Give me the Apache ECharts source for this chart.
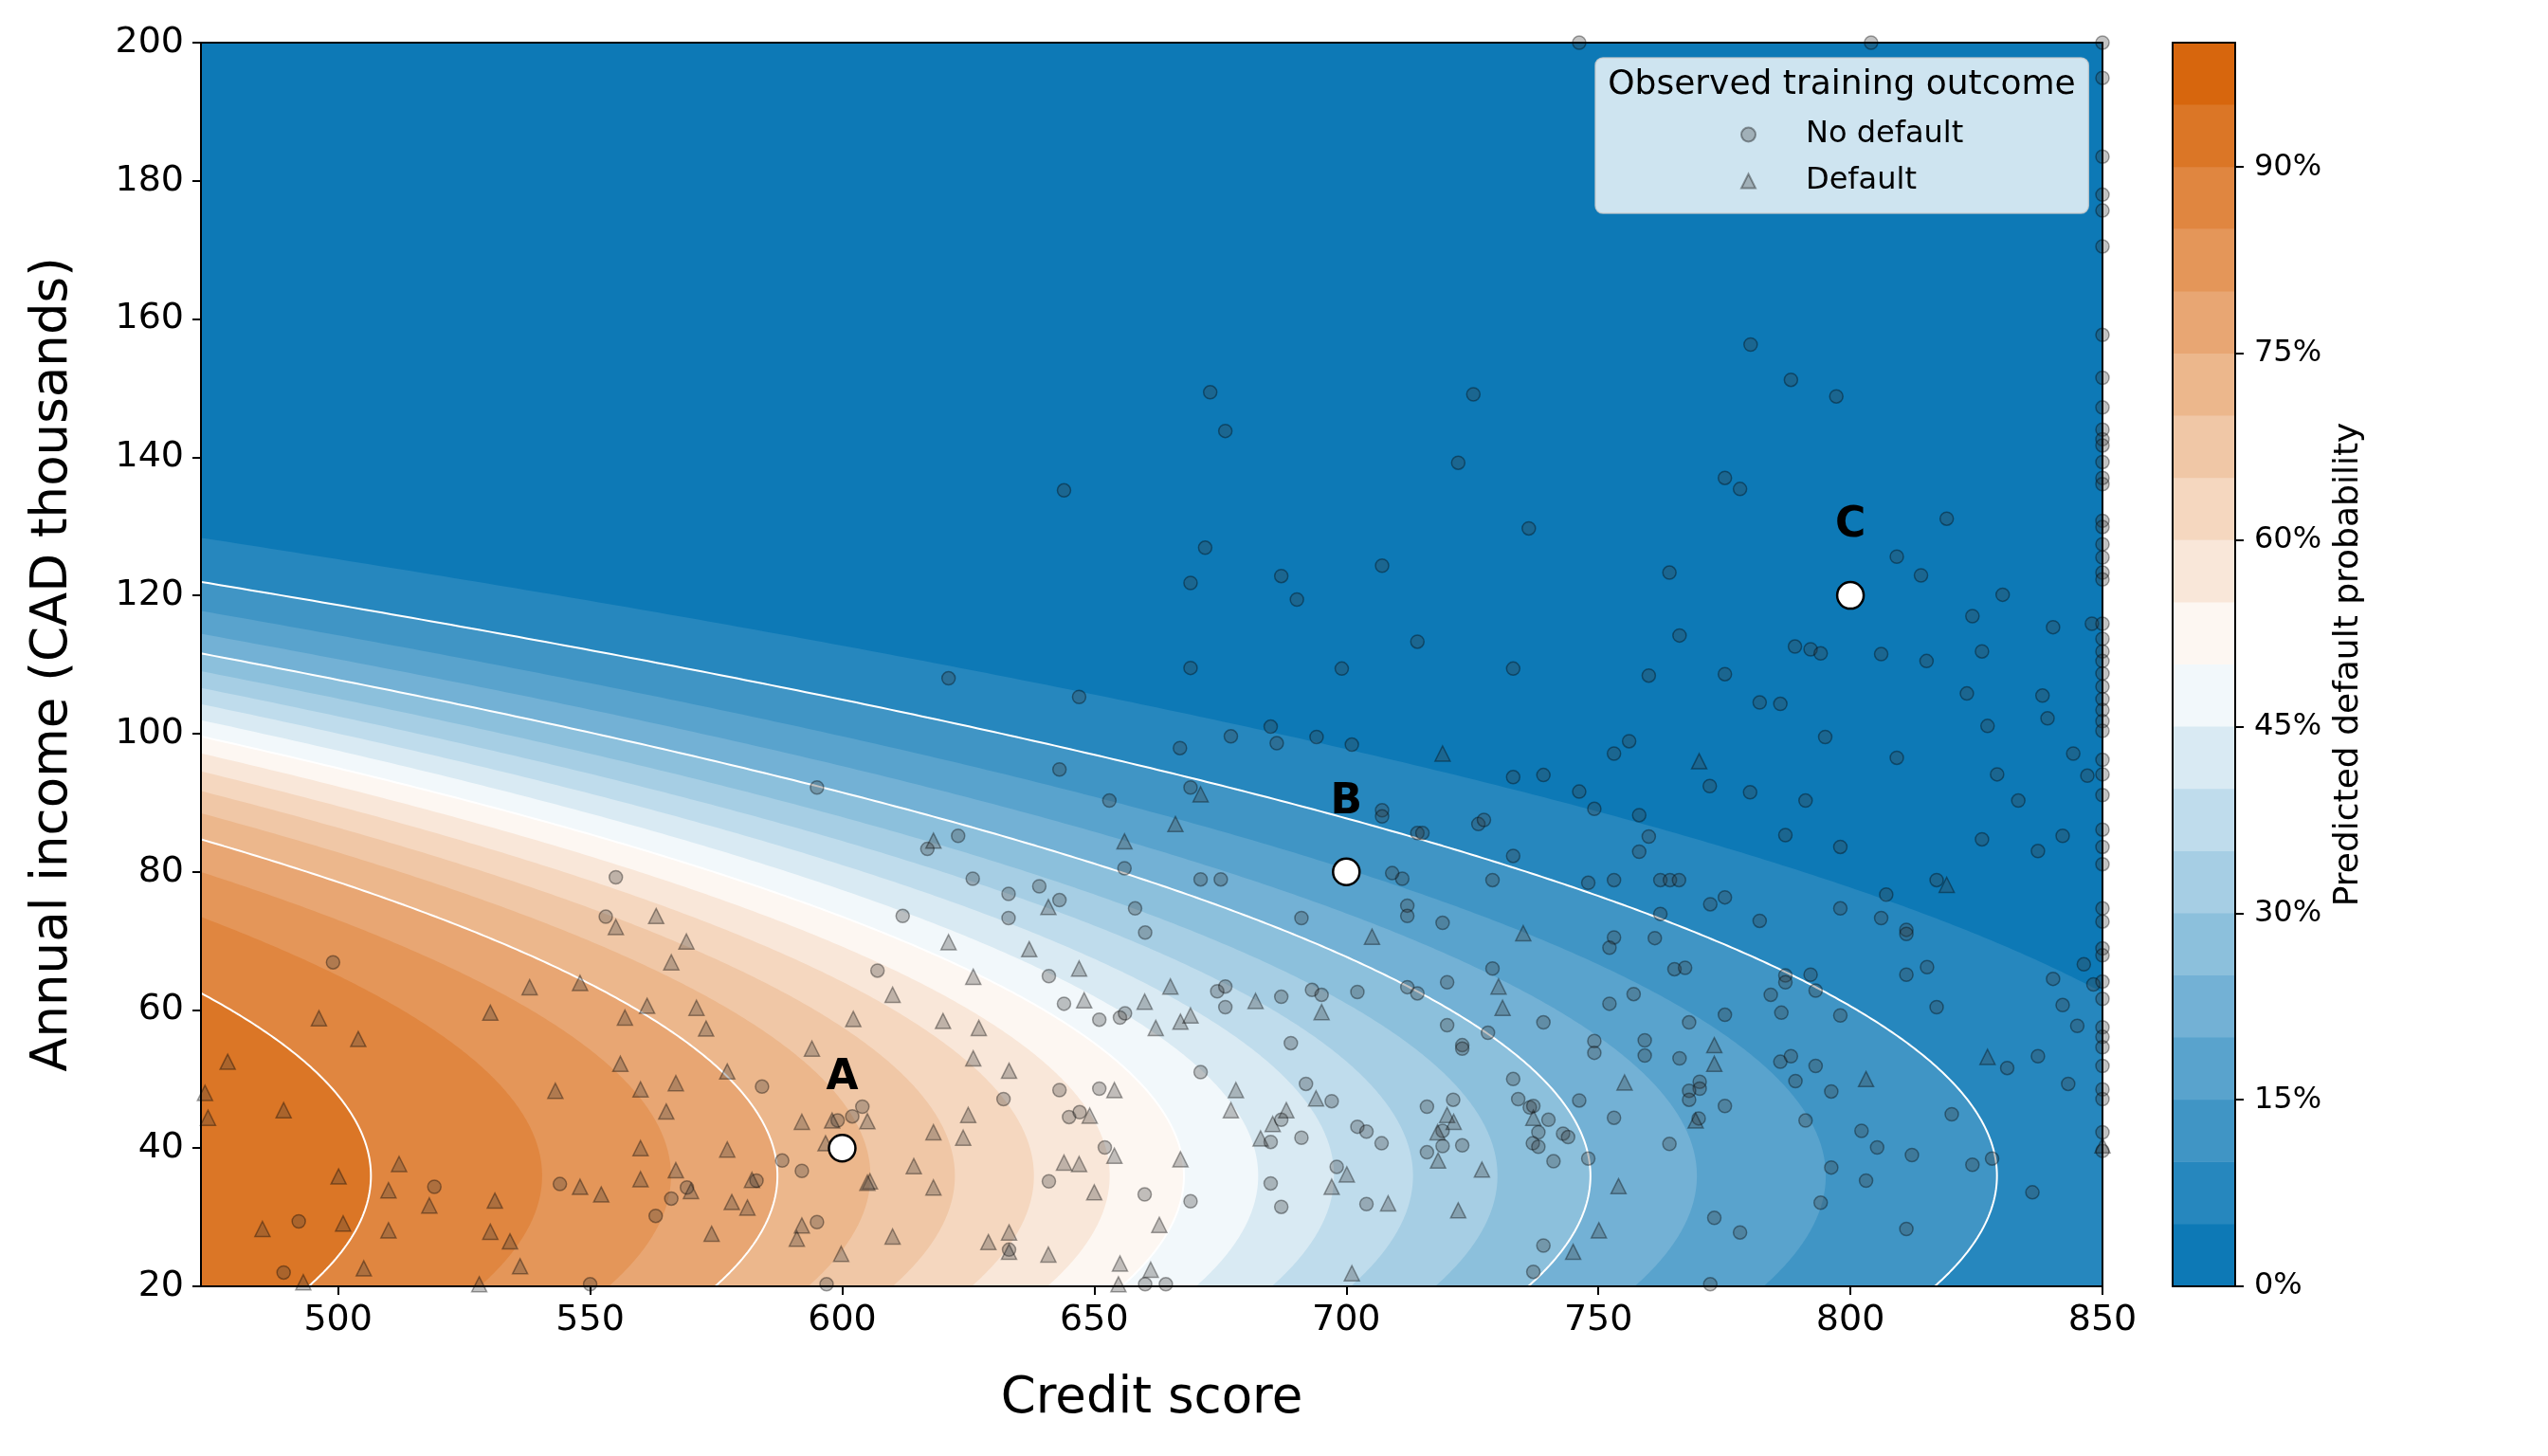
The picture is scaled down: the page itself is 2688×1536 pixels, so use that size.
<!DOCTYPE html>
<html>
<head>
<meta charset="utf-8">
<script src="https://cdn.jsdelivr.net/npm/echarts@6/dist/echarts.min.js"></script>
<style>
html,body{margin:0;padding:0;background:#ffffff;}
#chart{width:2688px;height:1536px;}
</style>
</head>
<body>
<div id="chart"></div>
<script>
// ---------------- data ----------------
const X_MIN = 472.8, X_MAX = 850, Y_MIN = 20, Y_MAX = 200;
const xTicks = [500, 550, 600, 650, 700, 750, 800, 850];
const yTicks = [20, 40, 60, 80, 100, 120, 140, 160, 180, 200];
const colorbarTicks = [0, 0.15, 0.30, 0.45, 0.60, 0.75, 0.90];
const fillLevels = [0, 0.05, 0.10, 0.15, 0.20, 0.25, 0.30, 0.35, 0.40, 0.45, 0.50,
                    0.55, 0.60, 0.65, 0.70, 0.75, 0.80, 0.85, 0.90, 0.95, 1.00];
const lineLevels = [0.10, 0.25, 0.50, 0.75, 0.90];

// fitted logistic surface: logit(p) = B0 + B_SCORE*score + B_INC2*(income-INC_CENTER)^2
const B0 = 9.098;
const B_SCORE = -0.013624;
const B_INC2 = -0.000657;
const INC_CENTER = 36;

const highlightNames = ['A', 'B', 'C'];
const highlightScores = [600, 700, 800];
const highlightIncomes = [40, 80, 120];

const noDefault = [
[555.1,79.2],[553.1,73.5],[499.0,66.9],[584.1,48.9],[599.1,44.0],[588.1,38.2],[592.0,36.7],[519.1,34.4],[544.0,34.8],[569.2,34.3],[583.0,35.3],[566.1,32.7],[563.0,30.2],[492.2,29.4],[595.0,29.3],[489.2,22.0],[550.0,20.3],[596.9,20.3],[595.0,92.2],
[625.9,79.0],[633.0,76.8],[639.1,77.9],[643.1,75.9],[633.0,73.3],[612.0,73.6],[658.1,74.7],[660.1,71.2],[671.1,78.9],[675.1,78.9],[711.1,79.0],[712.1,75.1],[712.1,73.6],[719.1,72.6],[691.1,73.3],[607.0,65.7],[641.0,64.9],[674.4,62.7],[676.0,63.4],[676.0,60.4],[687.1,61.9],[693.2,62.9],[695.1,62.2],[702.2,62.6],[712.1,63.3],[714.1,62.4],[720.0,64.0],[720.0,57.8],[723.0,54.9],[723.0,54.4],[728.1,56.7],[644.0,60.9],[651.0,58.6],[655.1,58.9],[656.1,59.5],[689.0,55.2],[671.1,51.0],[604.0,46.0],[602.0,44.6],[632.0,47.1],[643.1,48.4],[651.0,48.6],[645.0,44.5],[647.1,45.2],[692.0,49.3],[697.1,46.8],[687.1,44.1],[685.0,40.9],[691.1,41.5],[702.2,43.1],[704.0,42.4],[707.0,40.7],[716.0,46.0],[721.2,47.0],[719.1,42.5],[719.1,40.3],[723.0,40.4],[716.0,39.4],[652.1,40.1],[698.1,37.3],[685.0,34.9],[687.1,31.5],[704.0,31.9],[641.0,35.2],[660.0,33.3],[669.1,32.3],[633.1,25.3],[660.1,20.3],[664.2,20.3],
[729.0,78.8],[748.0,78.4],[753.1,78.8],[762.3,78.8],[764.2,78.8],[766.0,78.8],[817.1,78.8],[807.1,76.7],[775.1,76.3],[772.2,75.3],[798.0,74.7],[762.3,73.9],[782.0,72.9],[806.1,73.3],[811.1,71.6],[811.1,71.0],[753.1,70.5],[752.2,69.0],[761.2,70.4],[765.1,65.9],[767.2,66.1],[729.0,66.0],[787.1,65.0],[787.1,64.0],[792.1,65.1],[793.1,62.8],[784.2,62.2],[811.1,65.1],[815.2,66.2],[846.3,66.6],[840.2,64.5],[848.2,63.7],[757.0,62.3],[752.2,60.9],[786.3,59.6],[775.1,59.3],[798.0,59.2],[817.1,60.4],[842.1,60.7],[739.1,58.2],[768.0,58.2],[845.0,57.7],[749.2,55.5],[749.2,53.8],[759.2,55.6],[759.2,53.4],[766.1,53.0],[786.1,52.5],[788.2,53.3],[793.1,51.9],[837.2,53.3],[831.1,51.6],[843.2,49.3],[733.1,50.0],[734.1,47.1],[736.4,45.9],[737.1,46.1],[740.1,44.1],[738.1,42.3],[743.0,42.1],[744.0,41.6],[737.0,40.7],[738.1,40.2],[741.1,38.1],[748.0,38.5],[746.2,46.9],[753.1,44.4],[770.1,49.6],[770.1,48.6],[768.0,48.3],[768.0,47.0],[769.9,44.3],[775.1,46.1],[789.1,49.7],[796.2,48.2],[791.1,44.0],[802.2,42.5],[805.3,40.1],[812.2,39.0],[820.1,44.9],[824.2,37.6],[828.1,38.5],[764.1,40.6],[796.2,37.2],[803.1,35.3],[794.1,32.1],[836.1,33.6],[773.0,29.9],[778.1,27.8],[811.1,28.3],[739.1,25.9],[737.1,22.1],[772.2,20.3],
[850,74.7],[850,72.8],[850,68.9],[850,67.9],[850,64.1],[850,61.6],[850,57.5],[850,56.1],[850,54.6],[850,51.9],[850,48.5],[850,47.1],[850,42.3],[850,39.6],
[722.2,139.2],[644.0,135.2],[672.0,126.9],[707.1,124.3],[669.1,121.8],[687.1,122.8],[690.2,119.4],[714.1,113.3],[669.1,109.5],[699.1,109.4],[621.1,108.0],[647.0,105.3],[685.0,101.0],[677.1,99.6],[686.2,98.6],[694.1,99.5],[701.1,98.4],[667.0,97.9],[643.1,94.8],[669.1,92.2],[653.0,90.3],[707.1,88.9],[707.1,88.0],[714.1,85.6],[715.1,85.6],[726.2,86.9],[727.3,87.5],[623.0,85.2],[616.9,83.3],[656.0,80.5],[709.1,79.8],
[775.1,137.0],[778.1,135.4],[736.2,129.7],[819.1,131.1],[809.2,125.6],[814.0,122.9],[764.1,123.3],[830.2,120.1],[824.2,117.0],[840.2,115.4],[847.9,115.9],[766.1,114.2],[789.0,112.6],[792.1,112.2],[794.1,111.6],[806.1,111.5],[815.1,110.5],[826.1,111.9],[733.1,109.4],[760.0,108.4],[775.1,108.6],[782.0,104.5],[786.1,104.3],[823.1,105.8],[838.1,105.5],[839.1,102.2],[827.2,101.1],[795.0,99.5],[756.1,98.9],[753.1,97.1],[809.2,96.5],[844.2,97.1],[733.1,93.7],[739.1,94.0],[746.2,91.6],[749.2,89.1],[758.1,88.2],[772.1,92.4],[780.1,91.5],[791.1,90.3],[829.1,94.1],[847.0,93.9],[833.3,90.3],[760.0,85.1],[758.1,82.9],[787.1,85.3],[798.0,83.6],[826.1,84.7],[837.2,83.0],[842.1,85.2],[733.1,82.3],
[850,139.3],[850,137.0],[850,136.1],[850,130.8],[850,129.9],[850,127.4],[850,125.5],[850,123.3],[850,122.3],[850,115.9],[850,113.7],[850,111.9],[850,110.5],[850,108.7],[850,106.8],[850,105.0],[850,103.4],[850,101.8],[850,100.4],[850,96.2],[850,94.1],[850,91.1],[850,86.1],[850,83.6],[850,81.1],
[673.0,149.4],[676.0,143.8],[725.2,149.1],[746.2,200],[804.1,200],[780.2,156.3],[788.2,151.2],[797.2,148.8],
[850,200],[850,194.9],[850,183.5],[850,178.0],[850,175.7],[850,170.5],[850,157.7],[850,151.5],[850,147.2],[850,144.0],[850,142.6],[850,141.7]
];

const defaultPts = [
[563.1,73.6],[555.1,72.0],[569.1,69.9],[566.1,66.9],[538.0,63.3],[548.0,63.9],[530.2,59.6],[561.3,60.6],[571.1,60.3],[556.9,58.9],[573.0,57.3],[496.2,58.8],[504.0,55.8],[594.0,54.4],[478.1,52.5],[556.0,52.2],[577.2,51.1],[567.0,49.4],[560.0,48.5],[543.1,48.3],[473.6,48.0],[489.2,45.5],[474.2,44.4],[565.1,45.3],[592.0,43.8],[598.0,44.0],[596.7,40.7],[560.0,40.0],[577.2,39.8],[512.1,37.7],[500.1,35.9],[510.0,33.9],[560.0,35.5],[567.0,36.8],[548.0,34.4],[552.2,33.3],[570.0,33.8],[582.1,35.4],[518.1,31.7],[531.1,32.4],[578.1,32.2],[581.2,31.4],[485.0,28.3],[501.0,29.1],[510.0,28.1],[530.2,27.9],[534.1,26.5],[574.1,27.6],[592.0,28.8],[591.0,26.9],[599.8,24.7],[505.1,22.6],[536.1,22.9],[493.1,20.6],[528.0,20.3],
[640.9,74.9],[705.1,70.6],[621.1,69.8],[637.1,68.8],[626.0,64.8],[610.0,62.2],[647.0,66.0],[665.1,63.4],[682.0,61.3],[695.1,59.7],[648.0,61.4],[660.0,61.2],[662.2,57.4],[667.1,58.3],[669.1,59.2],[602.2,58.7],[620.0,58.4],[627.1,57.4],[626.0,53.0],[633.1,51.2],[605.0,43.9],[654.0,48.4],[625.0,44.8],[618.1,42.3],[624.0,41.5],[649.1,44.7],[678.1,48.4],[677.1,45.5],[694.0,47.2],[688.1,45.5],[685.4,43.5],[683.0,41.4],[720.0,44.8],[721.3,43.8],[718.1,42.3],[718.2,38.2],[726.9,36.9],[654.0,38.9],[644.0,37.9],[647.0,37.7],[667.1,38.4],[700.1,36.2],[697.1,34.4],[708.3,32.0],[722.2,31.0],[614.2,37.4],[605.5,35.2],[605.0,35.0],[618.1,34.3],[650.0,33.6],[662.9,28.9],[610.0,27.2],[629.0,26.4],[633.1,27.8],[633.1,25.0],[640.9,24.6],[655.1,23.3],[661.2,22.4],[701.1,21.9],[654.8,20.3],
[819.1,78.1],[735.1,71.1],[730.2,63.4],[731.0,60.3],[773.0,54.9],[773.0,52.2],[827.2,53.2],[755.2,49.5],[737.1,44.4],[769.3,44.0],[803.1,50.0],[754.0,34.5],[750.1,28.1],[745.0,25.0],[850,40.4],
[719.1,97.1],[671.1,91.2],[666.1,86.9],[656.0,84.4],[618.1,84.5],[770.0,96.0]
];

// ---------------- helpers ----------------
const FONT = 'DejaVu Sans';
const COLOR_LOW = [0, 114, 178], COLOR_MID = [255, 255, 255], COLOR_HIGH = [213, 94, 0];
function cmap(t) {
  const a = t < 0.5 ? COLOR_LOW : COLOR_MID;
  const b = t < 0.5 ? COLOR_MID : COLOR_HIGH;
  const f = t < 0.5 ? t / 0.5 : (t - 0.5) / 0.5;
  return 'rgb(' + a.map((v, i) => Math.round(v + (b[i] - v) * f)).join(',') + ')';
}
const bandColors = fillLevels.slice(0, -1).map((lo, i) => cmap((lo + fillLevels[i + 1]) / 2));
function logit(p) { return Math.log(p / (1 - p)); }
function scoreAtLevel(p, inc) {
  return (logit(p) - B0 - B_INC2 * Math.pow(inc - INC_CENTER, 2)) / B_SCORE;
}
const incomeSamples = [];
for (let v = Y_MIN; v <= Y_MAX + 1e-9; v += 0.25) incomeSamples.push(+v.toFixed(2));

const chart = echarts.init(document.getElementById('chart'), null, {renderer: 'canvas'});

const lineOnly = {show: true, onZero: false, lineStyle: {color: '#000', width: 2}};
const markerStyle = {color: 'rgba(60,60,60,0.38)', borderColor: 'rgba(0,0,0,0.45)', borderWidth: 1.5};

const contourLineSeries = lineLevels.map(lv => ({
  type: 'line', name: 'contour ' + lv, xAxisIndex: 0, yAxisIndex: 0,
  data: incomeSamples.map(inc => [scoreAtLevel(lv, inc), inc]).filter(d => d[0] >= X_MIN - 20),
  symbol: 'none', showSymbol: false, silent: true, clip: true, z: 3,
  lineStyle: {color: '#ffffff', width: 2}
}));

const option = {
  animation: false,
  backgroundColor: '#ffffff',
  textStyle: {fontFamily: FONT},
  grid: [
    {left: 212, top: 45, width: 2006, height: 1312, outerBoundsMode: 'none'},
    {left: 2292, top: 45, width: 66, height: 1312, outerBoundsMode: 'none'}
  ],
  xAxis: [
    {gridIndex: 0, type: 'value', min: X_MIN, max: X_MAX, position: 'bottom', z: 10,
     axisLine: lineOnly,
     axisTick: {show: true, customValues: xTicks, length: 9, lineStyle: {color: '#000', width: 2}},
     axisLabel: {customValues: xTicks, fontSize: 38, color: '#000', margin: 17, fontFamily: FONT},
     splitLine: {show: false},
     name: 'Credit score', nameLocation: 'middle', nameGap: 93,
     nameTextStyle: {fontSize: 53, color: '#000', fontFamily: FONT}},
    {gridIndex: 0, type: 'value', min: X_MIN, max: X_MAX, position: 'top', z: 10,
     axisLine: lineOnly, axisTick: {show: false}, axisLabel: {show: false}, splitLine: {show: false}},
    {gridIndex: 1, type: 'value', min: 0, max: 1, position: 'bottom', z: 10,
     axisLine: lineOnly, axisTick: {show: false}, axisLabel: {show: false}, splitLine: {show: false}},
    {gridIndex: 1, type: 'value', min: 0, max: 1, position: 'top', z: 10,
     axisLine: lineOnly, axisTick: {show: false}, axisLabel: {show: false}, splitLine: {show: false}}
  ],
  yAxis: [
    {gridIndex: 0, type: 'value', min: Y_MIN, max: Y_MAX, interval: 20, position: 'left', z: 10,
     axisLine: lineOnly,
     axisTick: {show: true, customValues: yTicks, length: 9, lineStyle: {color: '#000', width: 2}},
     axisLabel: {customValues: yTicks, fontSize: 38, color: '#000', margin: 18, fontFamily: FONT},
     splitLine: {show: false},
     name: 'Annual income (CAD thousands)', nameLocation: 'middle', nameGap: 129, nameRotate: 90,
     nameTextStyle: {fontSize: 53, color: '#000', fontFamily: FONT}},
    {gridIndex: 0, type: 'value', min: Y_MIN, max: Y_MAX, position: 'right', z: 10,
     axisLine: lineOnly, axisTick: {show: false}, axisLabel: {show: false}, splitLine: {show: false}},
    {gridIndex: 1, type: 'value', min: 0, max: 1, position: 'left', z: 10,
     axisLine: lineOnly, axisTick: {show: false}, axisLabel: {show: false}, splitLine: {show: false}},
    {gridIndex: 1, type: 'value', min: 0, max: 1, position: 'right', z: 10,
     axisLine: lineOnly,
     axisTick: {show: true, customValues: colorbarTicks, length: 9, lineStyle: {color: '#000', width: 2}},
     axisLabel: {customValues: colorbarTicks, fontSize: 32, color: '#000', margin: 20, fontFamily: FONT,
                 formatter: v => Math.round(v * 100) + '%'},
     splitLine: {show: false},
     name: 'Predicted default probability', nameLocation: 'middle', nameGap: 102, nameRotate: 90,
     nameTextStyle: {fontSize: 36, color: '#000', fontFamily: FONT}}
  ],
  legend: {
    data: [{name: 'No default', icon: 'circle'}, {name: 'Default', icon: 'triangle'}],
    orient: 'vertical', left: 1683, top: 61,
    itemWidth: 15, itemHeight: 15, itemGap: 17,
    padding: [65, 132, 18, 153],
    backgroundColor: 'rgba(255,255,255,0.8)',
    borderColor: 'rgba(204,204,204,0.8)', borderWidth: 1.5, borderRadius: 8,
    textStyle: {fontSize: 32, color: '#000', fontFamily: FONT, lineHeight: 32, padding: [0, 0, 0, 48]},
    selectedMode: false
  },
  graphic: [
    {type: 'text', x: 1943, y: 90, z: 100,
     style: {text: 'Observed training outcome', fontSize: 36, fontFamily: FONT, fill: '#000',
             align: 'center', verticalAlign: 'middle'}}
  ],
  series: [
    {
      type: 'custom', name: 'probability bands', xAxisIndex: 0, yAxisIndex: 0,
      clip: true, silent: true, z: 1,
      data: bandColors.map((c, k) => [k, k]),
      renderItem: function (params, api) {
        const k = api.value(0);
        let pts;
        if (k === 0) {
          pts = [[X_MIN, Y_MIN], [X_MAX, Y_MIN], [X_MAX, Y_MAX], [X_MIN, Y_MAX]];
        } else {
          const lv = fillLevels[k];
          pts = incomeSamples.map(inc => [Math.min(X_MAX + 10, Math.max(X_MIN - 10, scoreAtLevel(lv, inc))), inc]);
          pts.push([X_MIN - 10, Y_MAX], [X_MIN - 10, Y_MIN]);
        }
        return {type: 'polygon', shape: {points: pts.map(p => api.coord(p))},
                style: {fill: bandColors[k], stroke: null}};
      }
    },
    ...contourLineSeries,
    {
      type: 'scatter', name: 'No default', xAxisIndex: 0, yAxisIndex: 0, z: 4,
      symbol: 'circle', symbolSize: 14, data: noDefault, itemStyle: markerStyle
    },
    {
      type: 'scatter', name: 'Default', xAxisIndex: 0, yAxisIndex: 0, z: 4,
      symbol: 'triangle', symbolSize: 16, data: defaultPts, itemStyle: markerStyle
    },
    {
      type: 'scatter', name: 'Highlighted applicants', xAxisIndex: 0, yAxisIndex: 0, z: 6,
      symbol: 'circle', symbolSize: 28,
      data: highlightNames.map((n, i) => ({name: n, value: [highlightScores[i], highlightIncomes[i]]})),
      itemStyle: {color: '#ffffff', borderColor: '#000000', borderWidth: 2.5, opacity: 1},
      label: {show: true, position: 'top', distance: 36, formatter: '{b}',
              fontSize: 44, fontWeight: 'bold', color: '#000', fontFamily: FONT}
    },
    {
      type: 'custom', name: 'colorbar', xAxisIndex: 2, yAxisIndex: 3, clip: true, silent: true, z: 1,
      data: bandColors.map((c, k) => [k, k]),
      renderItem: function (params, api) {
        const k = api.value(0);
        const p0 = api.coord([0, fillLevels[k]]);
        const p1 = api.coord([1, fillLevels[k + 1]]);
        return {type: 'rect',
                shape: {x: p0[0], y: p1[1] - 0.6, width: p1[0] - p0[0], height: p0[1] - p1[1] + 0.6},
                style: {fill: bandColors[k], stroke: null}};
      }
    }
  ]
};
chart.setOption(option);
</script>
</body>
</html>
